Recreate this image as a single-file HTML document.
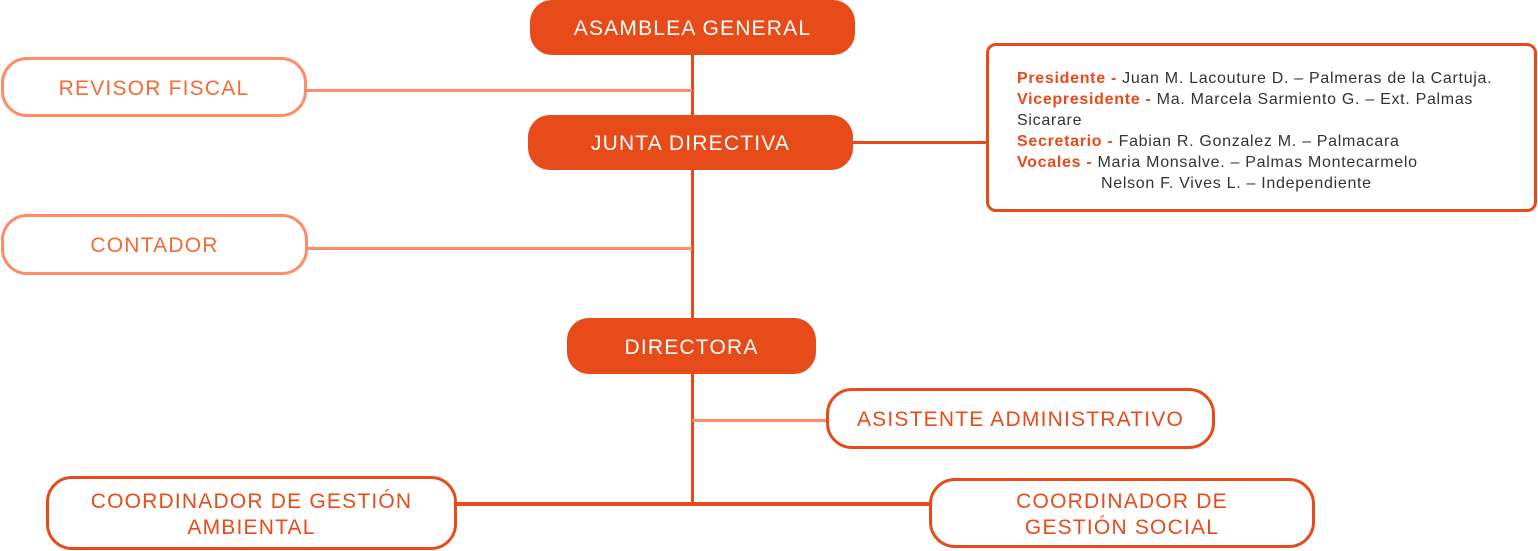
<!DOCTYPE html>
<html><head><meta charset="utf-8"><style>
body{margin:0;width:1538px;height:551px;background:#fff;position:relative;overflow:hidden;font-family:"Liberation Sans",sans-serif}
.b{position:absolute;box-sizing:border-box;display:flex;align-items:center;justify-content:center;text-align:center;font-size:21px;line-height:26px;letter-spacing:1.2px;padding-top:3px}
.f{background:#E64B19;color:#fff;border-radius:22px}
.o{border:3px solid #FF8C66;color:#F26A35;border-radius:26px;background:#fff}
.d{border:3px solid #E64B19;color:#E64B19;border-radius:26px;background:#fff}
.l{position:absolute}
.info{position:absolute;left:986px;top:43px;width:551px;height:169px;box-sizing:border-box;border:3px solid #E64B19;border-radius:10px;background:#fff;padding:22px 0 0 28px;font-size:16px;line-height:21px;color:#333;letter-spacing:0.7px;white-space:nowrap}
.info b{color:#E64B19}
</style></head><body>
<div class="l" style="left:691px;top:50px;width:3px;height:456px;background:#E64B19"></div>
<div class="l" style="left:304px;top:89px;width:388px;height:3px;background:#FF8C66"></div>
<div class="l" style="left:304px;top:247px;width:388px;height:3px;background:#FF8C66"></div>
<div class="l" style="left:850px;top:141px;width:138px;height:3px;background:#E64B19"></div>
<div class="l" style="left:692px;top:419px;width:136px;height:3px;background:#FF8C66"></div>
<div class="l" style="left:454px;top:502px;width:477px;height:4px;background:#E64B19"></div>

<div class="b f" style="left:530px;top:0;width:325px;height:55px">ASAMBLEA GENERAL</div>
<div class="b f" style="left:528px;top:115px;width:325px;height:55px">JUNTA DIRECTIVA</div>
<div class="b f" style="left:567px;top:318px;width:249px;height:56px">DIRECTORA</div>
<div class="b o" style="left:1px;top:57px;width:306px;height:60px">REVISOR FISCAL</div>
<div class="b o" style="left:1px;top:214px;width:307px;height:61px">CONTADOR</div>
<div class="b d" style="left:826px;top:388px;width:389px;height:61px">ASISTENTE ADMINISTRATIVO</div>
<div class="b d" style="left:46px;top:476px;width:411px;height:74px">COORDINADOR DE GESTIÓN<br>AMBIENTAL</div>
<div class="b d" style="left:929px;top:478px;width:386px;height:70px">COORDINADOR DE<br>GESTIÓN SOCIAL</div>

<div class="info">
<div><b>Presidente -</b> Juan M. Lacouture D. – Palmeras de la Cartuja.</div>
<div><b>Vicepresidente -</b> Ma. Marcela Sarmiento G. – Ext. Palmas</div>
<div>Sicarare</div>
<div><b>Secretario -</b> Fabian R. Gonzalez M. – Palmacara</div>
<div><b>Vocales -</b> Maria Monsalve. – Palmas Montecarmelo</div>
<div style="padding-left:84px">Nelson F. Vives L. – Independiente</div>
</div>
</body></html>
